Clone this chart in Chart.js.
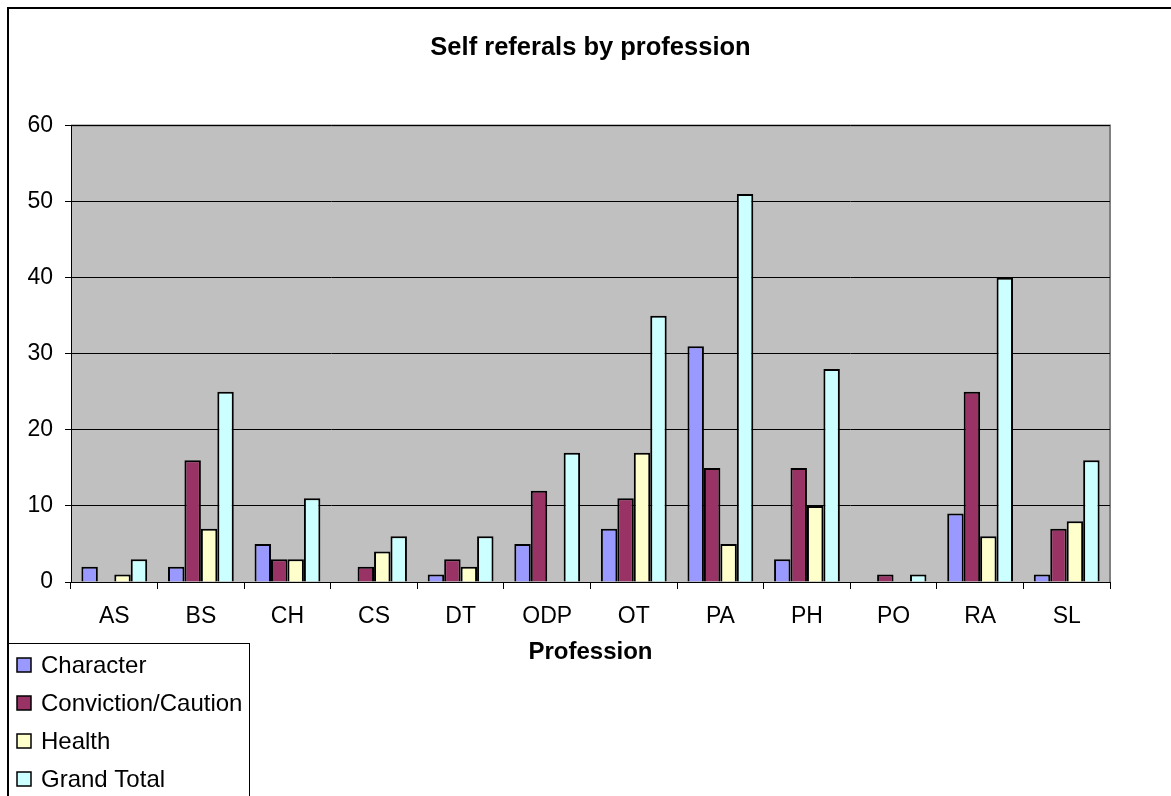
<!DOCTYPE html>
<html>
<head>
<meta charset="utf-8">
<title>Self referals by profession</title>
<script src="https://cdn.jsdelivr.net/npm/chart.js@4.4.1/dist/chart.umd.min.js"></script>
<style>
    body { margin: 0; background: #fff; }
    #wrap { width: 1171px; height: 796px; }
</style>
</head>
<body>
<div id="wrap"><canvas id="referral-chart" width="1171" height="796"></canvas></div>
<script>
// Datos del gráfico
const professions = ['AS', 'BS', 'CH', 'CS', 'DT', 'ODP', 'OT', 'PA', 'PH', 'PO', 'RA', 'SL'];
const characterVals = [2, 2, 5, 0, 1, 5, 7, 31, 3, 0, 9, 1];
const convictionVals = [0, 16, 3, 2, 3, 12, 11, 15, 15, 1, 25, 7];
const healthVals = [1, 7, 3, 4, 2, 0, 17, 5, 10, 0, 6, 8];
const grandTotalVals = [3, 25, 11, 6, 6, 17, 35, 51, 28, 1, 40, 16];
const yTicks = [0, 10, 20, 30, 40, 50, 60];

const FONT = 'Arial, "Liberation Sans", sans-serif';

// Fondo gris del área, marco exterior y leyenda en caja
const excelLook = {
    id: 'excelLook',
    beforeDraw(chart) {
        const { ctx, chartArea: a } = chart;
        ctx.save();
        ctx.fillStyle = '#fff';
        ctx.fillRect(0, 0, chart.width, chart.height);
        ctx.fillStyle = '#C0C0C0';
        ctx.fillRect(a.left, a.top, a.right - a.left, a.bottom - a.top);
        ctx.strokeStyle = '#808080';
        ctx.lineWidth = 2;
        ctx.beginPath();
        ctx.moveTo(a.left, a.top);
        ctx.lineTo(a.right, a.top);
        ctx.lineTo(a.right, a.bottom);
        ctx.stroke();
        // marco exterior
        ctx.strokeStyle = '#000';
        ctx.lineWidth = 2;
        ctx.beginPath();
        ctx.moveTo(8, chart.height);
        ctx.lineTo(8, 8);
        ctx.lineTo(chart.width, 8);
        ctx.stroke();
        ctx.restore();
    },
    afterDraw(chart) {
        const { ctx } = chart;
        ctx.save();
        ctx.fillStyle = '#fff';
        ctx.fillRect(8, 643, 242, 160);
        ctx.strokeStyle = '#000';
        ctx.lineWidth = 1;
        ctx.strokeRect(8.5, 643.5, 241, 160);
        ctx.font = '24px ' + FONT;
        ctx.textBaseline = 'middle';
        chart.data.datasets.forEach((ds, i) => {
            const y = 665 + i * 38;
            ctx.fillStyle = ds.backgroundColor;
            ctx.fillRect(17, y - 7, 14, 14);
            ctx.strokeStyle = '#000';
            ctx.lineWidth = 1.5;
            ctx.strokeRect(17, y - 7, 14, 14);
            ctx.fillStyle = '#000';
            ctx.fillText(ds.label, 41, y + 1);
        });
        ctx.restore();
    }
};

const makeSet = (label, data, color) => ({
    label,
    data,
    backgroundColor: color,
    borderColor: '#000',
    borderWidth: 2,
    borderSkipped: 'start',
    categoryPercentage: 0.76,
    barPercentage: 1
});

const ctx = document.getElementById('referral-chart').getContext('2d');
const referralChart = new Chart(ctx, {
    type: 'bar',
    data: {
        labels: professions,
        datasets: [
            makeSet('Character', characterVals, '#9999FF'),
            makeSet('Conviction/Caution', convictionVals, '#993366'),
            makeSet('Health', healthVals, '#FFFFCC'),
            makeSet('Grand Total', grandTotalVals, '#CCFFFF')
        ]
    },
    options: {
        responsive: false,
        animation: false,
        layout: { padding: { top: 20, right: 61, bottom: 129, left: 0 } },
        plugins: {
            legend: { display: false },
            tooltip: { enabled: false },
            title: {
                display: true,
                fullSize: false, // centrado sobre el área del gráfico
                text: 'Self referals by profession',
                color: '#000',
                font: { family: FONT, size: 25.5, weight: 'bold' },
                padding: { top: 13, bottom: 62 }
            }
        },
        scales: {
            x: {
                grid: { offset: true, drawOnChartArea: false, tickLength: 7, color: '#000' },
                border: { color: '#000', width: 1 },
                ticks: { color: '#000', padding: 14, font: { family: FONT, size: 23 } },
                title: {
                    display: true,
                    text: 'Profession',
                    color: '#000',
                    font: { family: FONT, size: 24, weight: 'bold' },
                    padding: 0
                },
                afterFit(scale) { scale.height = 85; }
            },
            y: {
                min: 0,
                max: 60,
                afterBuildTicks(scale) { scale.ticks = yTicks.map(v => ({ value: v })); },
                grid: { color: '#000', tickLength: 6 },
                border: { color: '#000', width: 1 },
                ticks: { color: '#000', padding: 12, font: { family: FONT, size: 23 } },
                afterFit(scale) { scale.width = 71; }
            }
        }
    },
    plugins: [excelLook]
});
</script>
</body>
</html>
